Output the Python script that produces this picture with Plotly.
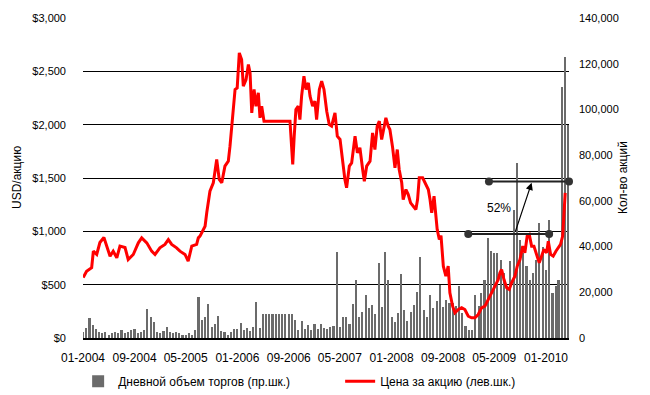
import pandas as pd
import plotly.graph_objects as go

# ---------------- data ----------------
PRICE_DATES = [
    "2004-01-02","2004-01-18","2004-02-11","2004-02-19","2004-03-06","2004-03-21","2004-04-09","2004-04-22",
    "2004-05-08","2004-05-23","2004-06-09","2004-06-24","2004-07-18","2004-08-02","2004-08-26","2004-09-19",
    "2004-10-05","2004-10-29","2004-11-21","2004-12-07","2004-12-30","2005-01-23","2005-02-08","2005-02-24",
    "2005-03-19","2005-04-04","2005-04-28","2005-05-13","2005-05-30","2005-06-22","2005-06-30","2005-07-08",
    "2005-07-16","2005-08-01","2005-08-09","2005-08-16","2005-08-24","2005-09-09","2005-09-25","2005-10-07",
    "2005-10-19","2005-11-03","2005-11-19","2005-11-27","2005-12-05","2005-12-13","2005-12-21","2005-12-31",
    "2006-01-10","2006-01-21","2006-01-29","2006-02-11","2006-02-22","2006-03-02","2006-03-10","2006-03-21",
    "2006-03-30","2006-04-10","2006-04-18","2006-04-26","2006-05-07","2006-09-07","2006-09-10","2006-09-20",
    "2006-09-27","2006-10-05","2006-10-16","2006-10-24","2006-11-01","2006-11-12","2006-11-22","2006-12-03",
    "2006-12-11","2006-12-23","2007-01-03","2007-01-11","2007-01-24","2007-02-04","2007-02-15","2007-02-28",
    "2007-03-12","2007-03-23","2007-04-08","2007-04-19","2007-05-02","2007-05-14","2007-05-25","2007-06-02",
    "2007-06-15","2007-06-26","2007-07-12","2007-07-23","2007-08-04","2007-08-17","2007-08-25","2007-09-05",
    "2007-09-21","2007-10-03","2007-10-14","2007-10-25","2007-11-04","2007-11-15","2007-11-23","2007-12-05",
    "2007-12-16","2007-12-24","2008-01-06","2008-01-17","2008-01-28","2008-02-06","2008-02-18","2008-02-25",
    "2008-03-09","2008-03-20","2008-03-31","2008-04-13","2008-04-25","2008-05-03","2008-05-11","2008-05-27",
    "2008-06-12","2008-06-23","2008-07-01","2008-07-09","2008-07-20","2008-07-29","2008-08-04","2008-08-14",
    "2008-08-22","2008-09-02","2008-09-14","2008-09-25","2008-10-03","2008-10-16","2008-10-27","2008-11-12",
    "2008-11-28","2008-12-13","2008-12-29","2009-01-14","2009-01-30","2009-02-14","2009-03-02","2009-03-18",
    "2009-04-03","2009-04-19","2009-05-04","2009-05-20","2009-05-28","2009-06-05","2009-06-16","2009-06-29",
    "2009-07-11","2009-07-22","2009-08-07","2009-08-18","2009-08-31","2009-09-13","2009-09-23","2009-10-04",
    "2009-10-14","2009-10-25","2009-11-05","2009-11-18","2009-11-30","2009-12-11","2009-12-22","2010-01-04",
    "2010-01-12","2010-01-23","2010-02-04","2010-02-17","2010-02-28","2010-03-11","2010-03-21","2010-03-27",
    "2010-04-02",
]
PRICE_USD = [
    567, 626, 660, 814, 783, 895, 942, 861,
    767, 814, 752, 861, 848, 736, 783, 892,
    939, 892, 814, 783, 845, 877, 923, 877,
    845, 814, 783, 720, 861, 877, 939, 955,
    986, 1048, 1176, 1298, 1376, 1455, 1673, 1486,
    1455, 1611, 1658, 1798, 1955, 2173, 2330, 2345,
    2673, 2611, 2361, 2423, 2564, 2486, 2111, 2330,
    2173, 2298, 2064, 2173, 2033, 2033, 1955, 1627,
    1892, 2142, 2173, 2048, 2267, 2455, 2330, 2392,
    2267, 2173, 2220, 2048, 2330, 2408, 2330, 2126,
    2000, 1986, 2111, 1892, 1861, 1642, 1486, 1408,
    1611, 1642, 1892, 1736, 1783, 1580, 1470, 1611,
    1658, 1923, 1767, 1986, 2033, 1861, 1955, 2064,
    1986, 1955, 1783, 1595, 1767, 1580, 1455, 1298,
    1392, 1345, 1267, 1236, 1205, 1298, 1502, 1502,
    1439, 1392, 1298, 1173, 1330, 1142, 1017, 923,
    960, 673, 579, 673, 423, 298, 236, 267,
    283, 267, 204, 189, 189, 220, 283, 298,
    361, 423, 486, 548, 611, 642, 548, 470,
    455, 517, 579, 673, 736, 861, 798, 955,
    970, 861, 861, 767, 705, 767, 830, 798,
    908, 783, 767, 814, 845, 877, 955, 1205,
    1361,
]

# daily volume sampled on the 1st and 16th of each month, Jan-2004 .. Apr-2010
VOLUME_SHARES = [
    # 2004
    2500, 4500, 8700, 5500, 4000, 2500, 2000, 2500, 1500, 2000, 2500, 2000,
    3500, 2000, 2500, 3500, 4000, 2000, 2500, 3500, 12700, 9400, 7200, 2500,
    # 2005
    2000, 3000, 5000, 2500, 2000, 2500, 2000, 1500, 1500, 2000, 1500, 3500,
    17900, 8000, 9000, 15000, 5000, 6000, 9700, 3000, 2500, 1500, 2500, 4000,
    # 2006
    4000, 6500, 3500, 4500, 3000, 5000, 15600, 4500, 10500, 10500, 10500, 10500,
    10500, 10500, 10500, 10500, 10500, 10500, 8000, 3500, 7500, 4000, 5500, 3500,
    # 2007
    6000, 4000, 6000, 4500, 4000, 5000, 5300, 37700, 4600, 9100, 9100, 6000,
    15000, 25200, 9000, 11400, 19000, 13000, 14500, 10700, 33000, 13700, 37700, 25200,
    # 2008
    9100, 6900, 11000, 28200, 12200, 7600, 11400, 14500, 20100, 35500, 12200, 9100,
    19000, 13000, 16000, 23200, 13700, 16800, 15300, 15300, 13800, 22600, 10900, 5100,
    # 2009
    3600, 3600, 19000, 13800, 19700, 25500, 43700, 37900, 37100, 37100, 34200, 28400,
    22600, 33500, 56000, 76500, 43000, 37100, 31300, 25500, 28400, 34200, 50500, 40000,
    # 2010
    29900, 51700, 19700, 22600, 25500, 110000, 123000, 93200,
]
VOLUME_MONTHS = pd.date_range("2004-01-01", "2010-04-01", freq="MS")
VOLUME_DATES = [d + pd.Timedelta(days=k) for d in VOLUME_MONTHS for k in (0, 15)]

X_TICK0 = "2004-01-01"
X_END = "2010-04-20"

# 52% growth marker (two reference levels and an arrow)
LOW_LEVEL_USD = 975
LOW_LEVEL_DATES = ["2008-12-29", "2010-01-16"]
HIGH_LEVEL_USD = 1468
HIGH_LEVEL_DATES = ["2009-04-06", "2010-04-20"]
ARROW_FROM = ("2009-08-07", 985)
ARROW_TO = ("2009-10-25", 1455)
GROWTH_LABEL = "52%"
GROWTH_LABEL_POS = ("2009-05-25", 1220)

NAME_VOLUME = "Дневной объем торгов (пр.шк.)"
NAME_PRICE = "Цена за акцию (лев.шк.)"
TITLE_LEFT = "USD/акцию"
TITLE_RIGHT = "Кол-во акций"

FONT = "Arial, 'Liberation Sans', sans-serif"

fig = go.Figure()

fig.add_trace(go.Bar(
    x=VOLUME_DATES, y=VOLUME_SHARES, name=NAME_VOLUME, yaxis="y",
    marker=dict(color="#6b6b6b", line=dict(width=0)),
    width=10 * 24 * 3600 * 1000,
))

fig.add_trace(go.Scatter(
    x=PRICE_DATES, y=PRICE_USD, name=NAME_PRICE, yaxis="y2",
    mode="lines", line=dict(color="#ff0000", width=3),
))

for dates, level in ((LOW_LEVEL_DATES, LOW_LEVEL_USD), (HIGH_LEVEL_DATES, HIGH_LEVEL_USD)):
    fig.add_trace(go.Scatter(
        x=dates, y=[level, level], yaxis="y2", mode="lines+markers",
        line=dict(color="#222222", width=2),
        marker=dict(color="#333333", size=8),
        showlegend=False, cliponaxis=False, hoverinfo="skip",
    ))

fig.add_annotation(
    x=ARROW_TO[0], y=ARROW_TO[1], ax=ARROW_FROM[0], ay=ARROW_FROM[1],
    xref="x", yref="y2", axref="x", ayref="y2",
    showarrow=True, arrowhead=2, arrowsize=1.2, arrowwidth=1.2, arrowcolor="#000000",
    text="",
)
fig.add_annotation(
    x=GROWTH_LABEL_POS[0], y=GROWTH_LABEL_POS[1], xref="x", yref="y2",
    text=GROWTH_LABEL, showarrow=False, font=dict(family=FONT, size=12, color="#000000"),
)
fig.add_annotation(
    x=0, y=0.5, xref="paper", yref="paper", xshift=-75,
    text=TITLE_LEFT, textangle=-90, showarrow=False,
    font=dict(family=FONT, size=12, color="#000000"),
)
fig.add_annotation(
    x=1, y=0.5, xref="paper", yref="paper", xshift=63,
    text=TITLE_RIGHT, textangle=-90, showarrow=False,
    font=dict(family=FONT, size=12, color="#000000"),
)

# The page body adds an 8 px margin, so the figure is offset by 8 px inside the window.
fig.update_layout(
    template="none",
    width=634, height=387,
    margin=dict(l=75, r=73, t=10, b=57, autoexpand=False),
    paper_bgcolor="white", plot_bgcolor="white",
    font=dict(family=FONT, size=11, color="#000000"),
    bargap=0,
    showlegend=True,
    legend=dict(
        orientation="h", x=-0.01, xanchor="left", y=-0.135, yanchor="middle",
        entrywidth=217, entrywidthmode="pixels",
        font=dict(family=FONT, size=12, color="#000000"),
        bgcolor="rgba(0,0,0,0)",
    ),
    xaxis=dict(
        type="date", range=[X_TICK0, X_END], automargin=False,
        tick0=X_TICK0, dtick="M8", tickformat="%m-%Y",
        showgrid=False, zeroline=False,
        showline=True, linecolor="#000000", linewidth=1.5,
        ticks="", ticklabelstandoff=8,
        tickfont=dict(family=FONT, size=12, color="#000000"),
    ),
    yaxis=dict(
        side="right", range=[0, 140000], dtick=20000, tickformat=",d", automargin=False,
        showgrid=False, zeroline=False, showline=False, ticks="",
        ticklabelstandoff=9,
        tickfont=dict(family=FONT, size=11, color="#000000"),
    ),
    yaxis2=dict(
        side="left", overlaying="y", range=[0, 3000], dtick=500, automargin=False,
        tickprefix="$", tickformat=",d",
        showgrid=True, gridcolor="#000000", gridwidth=1.3,
        zeroline=False, showline=False, ticks="",
        ticklabelstandoff=16,
        tickfont=dict(family=FONT, size=11, color="#000000"),
    ),
)

fig.write_html("out.html")
